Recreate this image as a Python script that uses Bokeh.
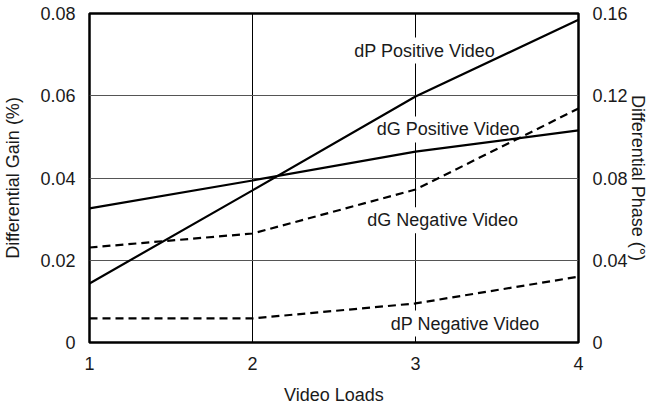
import math
from bokeh.plotting import figure
from bokeh.models import (Range1d, LinearAxis, FixedTicker, CustomJSTickFormatter, Label)
from bokeh.embed import file_html
from bokeh.resources import INLINE

# ---- data ----
video_loads = [1, 2, 3, 4]
dg_positive = [0.0326, 0.0394, 0.0464, 0.0516]   # Differential Gain (%)
dg_negative = [0.0231, 0.0265, 0.0372, 0.0569]   # Differential Gain (%)
dp_positive = [0.0287, 0.0740, 0.1196, 0.1570]   # Differential Phase (deg)
dp_negative = [0.0117, 0.0117, 0.0190, 0.0320]   # Differential Phase (deg)

x_ticks = [1, 2, 3, 4]
gain_ticks = [0, 0.02, 0.04, 0.06, 0.08]
phase_ticks = [0, 0.04, 0.08, 0.12, 0.16]

FONT = "Liberation Sans"
TXT = "#1a1a1a"
FS = "18px"

p = figure(width=650, height=409, x_range=Range1d(1, 4), y_range=Range1d(0, 0.08),
           output_backend="svg", toolbar_location=None,
           min_border_left=89, min_border_right=72, min_border_top=13, min_border_bottom=67)
p.extra_y_ranges = {"phase": Range1d(0, 0.16)}

fmt = CustomJSTickFormatter(code="return tick == 0 ? '0' : tick.toFixed(2);")

# x axis
xa = p.xaxis[0]
xa.ticker = FixedTicker(ticks=x_ticks)
xa.major_label_standoff = 14
xa.axis_label = "Video Loads"
xa.axis_label_standoff = 12

# left axis
ya = p.yaxis[0]
ya.ticker = FixedTicker(ticks=gain_ticks)
ya.formatter = fmt
ya.major_label_standoff = 14
ya.axis_label = "Differential Gain (%)"
ya.axis_label_standoff = 14

# right axis
ra = LinearAxis(y_range_name="phase", ticker=FixedTicker(ticks=phase_ticks), formatter=fmt)
ra.major_label_standoff = 14
ra.axis_label = "Differential Phase (°)"
ra.axis_label_standoff = -3
p.add_layout(ra, "right")

for ax in [xa, ya, ra]:
    ax.axis_line_color = None
    ax.major_tick_line_color = None
    ax.minor_tick_line_color = None
    ax.major_tick_out = 0
    ax.major_tick_in = 0
    ax.minor_tick_out = 0
    ax.minor_tick_in = 0
    ax.major_label_text_font = FONT
    ax.major_label_text_font_size = FS
    ax.major_label_text_color = TXT
    ax.axis_label_text_font = FONT
    ax.axis_label_text_font_size = FS
    ax.axis_label_text_font_style = "normal"
    ax.axis_label_text_color = TXT

# grid
p.xgrid.ticker = FixedTicker(ticks=[2, 3])
p.xgrid.grid_line_color = "black"
p.xgrid.grid_line_width = 1
p.ygrid.ticker = FixedTicker(ticks=[0.02, 0.04, 0.06])
p.ygrid.grid_line_color = "#555555"
p.ygrid.grid_line_width = 1

p.outline_line_color = "black"
p.outline_line_width = 2.5
p.outline_line_alpha = 1.0
p.background_fill_color = "white"
p.border_fill_color = "white"

# in-plot labels (white boxes under the lines, above grid)
in_labels = [
    ("dP Positive Video", 3.056, 0.0710),
    ("dG Positive Video", 3.20, 0.0518),
    ("dG Negative Video", 3.167, 0.0297),
    ("dP Negative Video", 3.305, 0.0046),
]
for txt, lx, ly in in_labels:
    p.add_layout(Label(x=lx, y=ly, text=txt, text_align="center", text_baseline="alphabetic",
                       text_font=FONT, text_font_size=FS, text_color=TXT,
                       background_fill_color="white", padding=3, level="underlay"))

# lines
p.line(video_loads, dg_positive, line_color="black", line_width=2.2)
p.line(video_loads, dg_negative, line_color="black", line_width=2.2, line_dash="8 5")
p.line(video_loads, dp_positive, line_color="black", line_width=2.2, y_range_name="phase")
p.line(video_loads, dp_negative, line_color="black", line_width=2.2, line_dash="8 5",
       y_range_name="phase")

open("out.html", "w").write(file_html(p, INLINE))
